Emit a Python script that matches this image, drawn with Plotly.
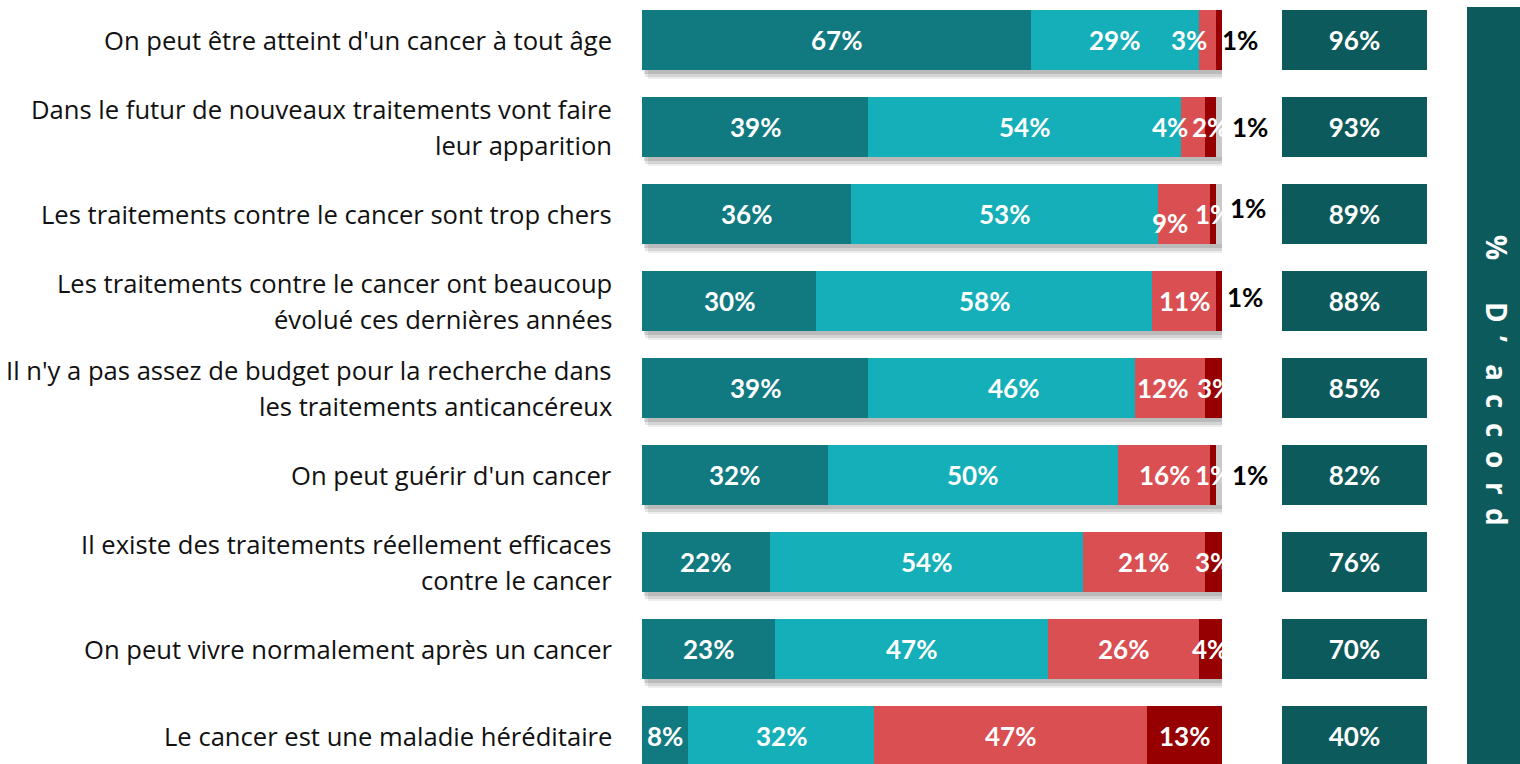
import plotly.graph_objects as go

# ---------------- data ----------------
statements = [
    "On peut être atteint d'un cancer à tout âge",
    "Dans le futur de nouveaux traitements vont faire<br>leur apparition",
    "Les traitements contre le cancer sont trop chers",
    "Les traitements contre le cancer ont beaucoup<br>évolué ces dernières années",
    "Il n'y a pas assez de budget pour la recherche dans<br>les traitements anticancéreux",
    "On peut guérir d'un cancer",
    "Il existe des traitements réellement efficaces<br>contre le cancer",
    "On peut vivre normalement après un cancer",
    "Le cancer est une maladie héréditaire",
]
tout_a_fait = [67, 39, 36, 30, 39, 32, 22, 23, 8]
plutot_oui = [29, 54, 53, 58, 46, 50, 54, 47, 32]
plutot_non = [3, 4, 9, 11, 12, 16, 21, 26, 47]
pas_du_tout = [1, 2, 1, 1, 3, 1, 3, 4, 13]
nsp = [0, 1, 1, 0, 0, 1, 0, 0, 0]
pct_accord = [96, 93, 89, 88, 85, 82, 76, 70, 40]
side_title = ["%", " ", "D", "’", "a", "c", "c", "o", "r", "d"]

series = [tout_a_fait, plutot_oui, plutot_non, pas_du_tout, nsp]
colors = ["#107a80", "#14afb8", "#d94f52", "#960000", "#c9c9c9"]
names = ["Tout à fait d'accord", "Plutôt d'accord", "Plutôt pas d'accord",
         "Pas du tout d'accord", "NSP"]

W, H = 1520, 764
n = len(statements)
rows = list(range(n))
PX_ROW = 87.0
y_top = -40.0 / PX_ROW
y_bot = y_top + H / PX_ROW

# label tweaks (pixel shifts) for crowded small segments
xshift = {(0, 2): -19, (0, 3): 21, (1, 2): -23, (1, 4): 31, (2, 2): -14,
          (2, 4): 29, (3, 3): 26, (5, 4): 31, (4, 1): 12, (4, 2): -7,
          (4, 3): 2}
yshift = {(2, 2): -9, (2, 4): 6, (3, 3): 4}

fig = go.Figure()

# shadow layer
totals = [sum(s[i] for s in series) for i in rows]
for dx, dy, a in [(1.0, 0.10, 0.07), (0.6, 0.075, 0.10), (0.3, 0.05, 0.12)]:
    fig.add_trace(go.Bar(
        x=totals, y=[r + dy for r in rows], base=dx, orientation="h",
        width=0.69, marker=dict(color=f"rgba(0,0,0,{a})", line=dict(width=0)),
        hoverinfo="skip", showlegend=False, xaxis="x", yaxis="y"))

for s, c, nm in zip(series, colors, names):
    fig.add_trace(go.Bar(
        x=s, y=rows, orientation="h", name=nm, width=0.69,
        marker=dict(color=c, line=dict(width=0)),
        showlegend=False, xaxis="x", yaxis="y"))

fig.add_trace(go.Bar(
    x=[1] * n, y=rows, orientation="h", width=0.69,
    marker=dict(color="#0d5a5c", line=dict(width=0)),
    text=[f"{v}%" for v in pct_accord], textposition="inside",
    insidetextanchor="middle",
    textfont=dict(family="Lato", size=26, color="white", weight="bold"),
    showlegend=False, xaxis="x2", yaxis="y"))

annotations = []
# segment labels
for i in rows:
    vals = [s[i] for s in series]
    last_nz = max(j for j, v in enumerate(vals) if v > 0)
    cum = 0
    for j, v in enumerate(vals):
        if v > 0:
            black = (j == last_nz and v <= 1)
            annotations.append(dict(
                x=cum + v / 2, y=i, xref="x", yref="y", text=f"{v}%",
                showarrow=False, xanchor="center", yanchor="middle",
                xshift=xshift.get((i, j), 0), yshift=yshift.get((i, j), 0),
                font=dict(family="Lato", size=26, weight="bold",
                          color="black" if black else "white")))
        cum += v

# statement labels
for i, lab in enumerate(statements):
    lines = lab.split("<br>")
    offs = [0] if len(lines) == 1 else [18, -18]
    for line, o in zip(lines, offs):
        annotations.append(dict(
            x=614 / W, y=i, xref="paper", yref="y", text=line,
            showarrow=False, xanchor="right", yanchor="middle", yshift=o,
            font=dict(family="Open Sans", size=25.6, color="#111111")))

# vertical side title
gaps = {"%": 0, "D": 65, "’": 27, "a": 33}
ypos = 247.0
first = True
for ch in side_title:
    if ch == " ":
        continue
    if not first:
        ypos += gaps.get(ch, 29.0)
    first = False
    annotations.append(dict(
        x=1497 / W, y=1 - ypos / H, xref="paper", yref="paper", text=ch,
        showarrow=False, textangle=90, xanchor="center", yanchor="middle",
        font=dict(family="Open Sans", size=28, color="white", weight="bold")))

shapes = [dict(type="rect", xref="paper", yref="paper",
               x0=1467 / W, x1=1.0, y0=0, y1=1 - 7 / H,
               fillcolor="#0d5a5c", line=dict(width=0), layer="below")]

fig.update_layout(
    width=W, height=H, margin=dict(l=0, r=0, t=0, b=0),
    paper_bgcolor="white", plot_bgcolor="white",
    barmode="stack", bargap=0,
    xaxis=dict(domain=[642 / W, 1222 / W], range=[0, 100], visible=False,
               fixedrange=True),
    xaxis2=dict(domain=[1282 / W, 1427 / W], range=[0, 1], visible=False,
                fixedrange=True, anchor="y"),
    yaxis=dict(domain=[0, 1], range=[y_bot, y_top], visible=False,
               fixedrange=True),
    annotations=annotations, shapes=shapes, showlegend=False,
)

fig.write_html(
    "out.html",
    config={"displayModeBar": False},
    post_script="document.body.style.margin='0';document.body.style.overflow='hidden';",
)
